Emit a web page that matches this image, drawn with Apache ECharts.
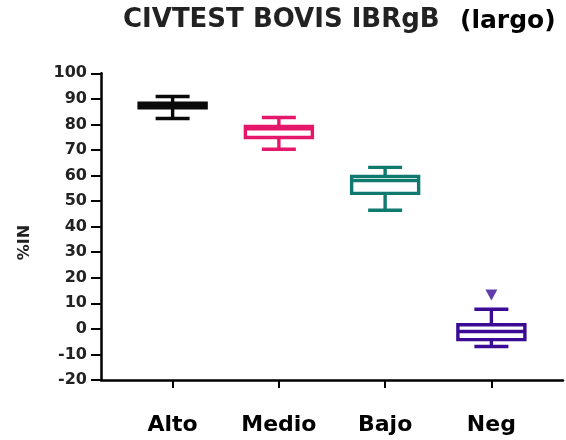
<!DOCTYPE html>
<html><head><meta charset="utf-8">
<script src="https://cdn.jsdelivr.net/npm/echarts@6/dist/echarts.min.js"></script>
<style>html,body{margin:0;padding:0;background:#fff}#c{width:566px;height:440px}</style>
</head><body><div id="c"></div>
<script>
const categories = ['Alto', 'Medio', 'Bajo', 'Neg'];
const positions = [1, 2, 3, 4];
const whiskerMin = [82.3, 70.3, 46.4, -6.9];
const q1 = [86.5, 74.9, 53.0, -4.2];
const median = [87.5, 78.3, 58.0, -1.0];
const q3 = [88.3, 79.2, 59.6, 1.6];
const whiskerMax = [90.9, 82.7, 63.2, 7.7];
const outlierX = [4];
const outlierY = [13.3];
const colors = ['#0a0a0a', '#E5176A', '#117A6F', '#3B0B95'];
const yMin = -20, yMax = 100, yStep = 10;
const FONT = 'DejaVu Sans';

const boxData = positions.map((p, i) => [p, whiskerMin[i], q1[i], median[i], q3[i], whiskerMax[i]]);
const outlierData = outlierX.map((x, i) => [x, outlierY[i]]);

function renderItem(params, api) {
  const x = api.value(0);
  const c = colors[params.dataIndex];
  const pMin = api.coord([x, api.value(1)]);
  const pQ1 = api.coord([x, api.value(2)]);
  const pMed = api.coord([x, api.value(3)]);
  const pQ3 = api.coord([x, api.value(4)]);
  const pMax = api.coord([x, api.value(5)]);
  const bw = 67, cw = 34, lw = 3.4;
  const cx = pMax[0];
  const st = { stroke: c, lineWidth: lw, fill: null };
  return {
    type: 'group',
    children: [
      { type: 'line', shape: { x1: cx, y1: pMax[1], x2: cx, y2: pQ3[1] }, style: st },
      { type: 'line', shape: { x1: cx, y1: pQ1[1], x2: cx, y2: pMin[1] }, style: st },
      { type: 'line', shape: { x1: cx - cw / 2, y1: pMax[1], x2: cx + cw / 2, y2: pMax[1] }, style: st },
      { type: 'line', shape: { x1: cx - cw / 2, y1: pMin[1], x2: cx + cw / 2, y2: pMin[1] }, style: st },
      { type: 'rect', shape: { x: cx - bw / 2, y: pQ3[1], width: bw, height: pQ1[1] - pQ3[1] }, style: { stroke: c, lineWidth: lw, fill: '#fff' } },
      { type: 'line', shape: { x1: cx - bw / 2, y1: pMed[1], x2: cx + bw / 2, y2: pMed[1] }, style: st }
    ]
  };
}

const chart = echarts.init(document.getElementById('c'), null, { renderer: 'canvas' });
chart.setOption({
  backgroundColor: '#fff',
  animation: false,
  title: [
    { text: 'CIVTEST BOVIS IBRgB', left: 123, top: 7, padding: 0,
      textStyle: { fontFamily: FONT, fontWeight: 'bold', fontSize: 26, color: '#222' } },
    { text: '(largo)', left: 460, top: 9, padding: 0,
      textStyle: { fontFamily: FONT, fontWeight: 'bold', fontSize: 25, color: '#000' } }
  ],
  grid: { left: 101, right: 3, top: 73.3, bottom: 60 },
  xAxis: {
    type: 'value', min: 0.326, max: 4.674,
    splitLine: { show: false },
    axisLine: { show: true, onZero: false, lineStyle: { color: '#000', width: 2.5 } },
    axisTick: { show: true, customValues: positions, length: 8, lineStyle: { color: '#000', width: 2 } },
    axisLabel: { show: true, customValues: positions, margin: 34,
      formatter: v => categories[Math.round(v) - 1],
      fontFamily: FONT, fontWeight: 'bold', fontSize: 22, color: '#000' }
  },
  yAxis: {
    type: 'value', min: yMin, max: yMax, interval: yStep,
    name: '%IN', nameLocation: 'middle', nameGap: 68, nameRotate: 90,
    nameTextStyle: { fontFamily: FONT, fontWeight: 'bold', fontSize: 16, color: '#222', padding: [0, 32, 0, 0] },
    splitLine: { show: false },
    axisLine: { show: true, lineStyle: { color: '#000', width: 2.5 } },
    axisTick: { show: true, length: 10, lineStyle: { color: '#000', width: 2 } },
    axisLabel: { margin: 14, fontFamily: FONT, fontWeight: 'bold', fontSize: 16, color: '#222' }
  },
  series: [
    { type: 'custom', renderItem: renderItem, data: boxData, encode: { x: 0, y: [1, 2, 3, 4, 5] } },
    { type: 'scatter', data: outlierData, symbol: 'triangle', symbolRotate: 180, symbolSize: [12, 11],
      itemStyle: { color: colors[3] } }
  ]
});
</script></body></html>
